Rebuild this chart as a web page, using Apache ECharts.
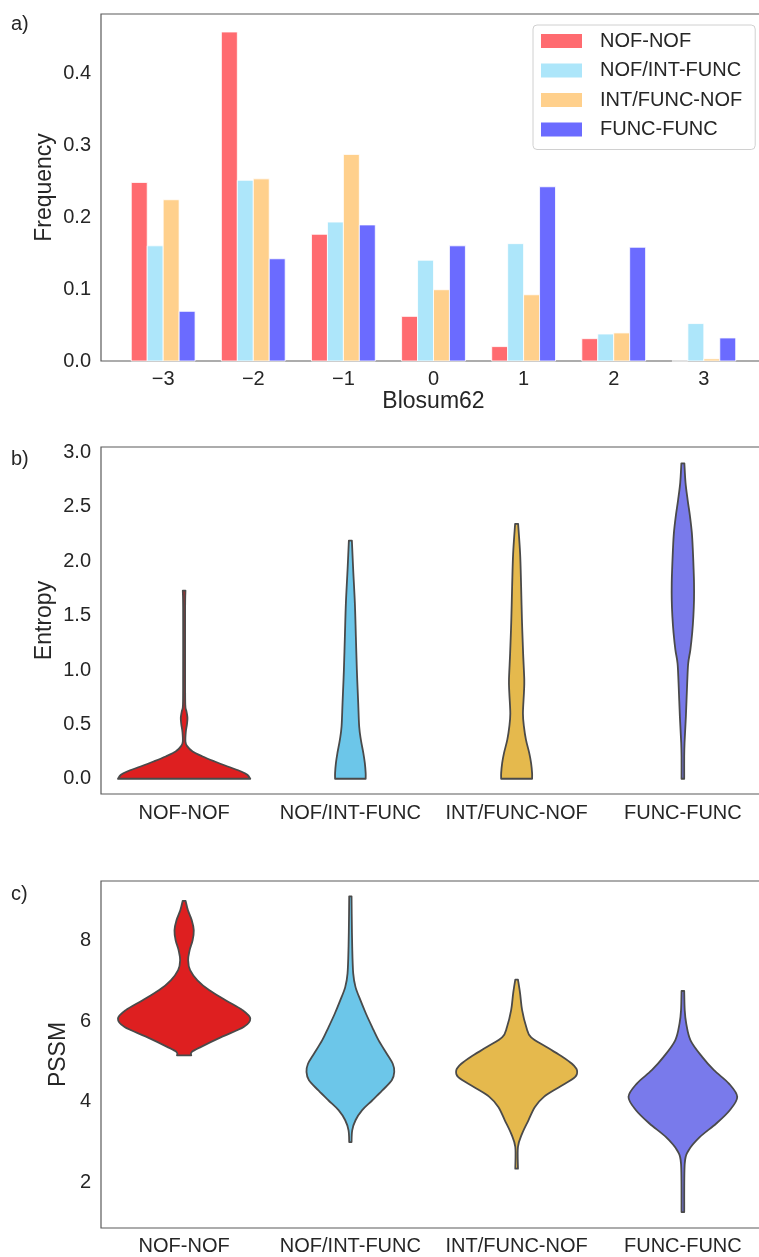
<!DOCTYPE html>
<html><head><meta charset="utf-8">
<script src="https://cdn.jsdelivr.net/npm/echarts@6/dist/echarts.min.js"></script>
<style>html,body{margin:0;padding:0;background:#fff}#c{width:759px;height:1257px}</style>
</head><body><div id="c"></div>
<script>
// ---------- DATA ----------
const blosumScores = [-3, -2, -1, 0, 1, 2, 3];
const groupNames = ['NOF-NOF', 'NOF/INT-FUNC', 'INT/FUNC-NOF', 'FUNC-FUNC'];
const freqNofNof      = [0.248, 0.457, 0.176, 0.062, 0.020, 0.031, 0.000];
const freqNofIntFunc  = [0.160, 0.251, 0.193, 0.140, 0.163, 0.0375, 0.052];
const freqIntFuncNof  = [0.224, 0.253, 0.287, 0.099, 0.092, 0.039, 0.003];
const freqFuncFunc    = [0.069, 0.142, 0.189, 0.160, 0.242, 0.158, 0.032];
const freqTicks = [0, 0.1, 0.2, 0.3, 0.4];
const entropyTicks = [0, 0.5, 1.0, 1.5, 2.0, 2.5, 3.0];
const pssmTicks = [2, 4, 6, 8];

// violin outlines: [value, half-width in category units], bottom to top
const entropyNofNof = [[0,0.398],[0.037,0.380],[0.067,0.343],[0.113,0.262],[0.159,0.184],[0.205,0.111],[0.25,0.051],[0.30,0.018],[0.34,0.008],[0.43,0.010],[0.50,0.017],[0.56,0.020],[0.62,0.014],[0.68,0.007],[0.96,0.006],[1.57,0.006],[1.73,0.008]];
const entropyNofIntFunc = [[0,0.092],[0.052,0.092],[0.144,0.087],[0.236,0.078],[0.36,0.063],[0.48,0.053],[0.70,0.047],[1.00,0.039],[1.31,0.033],[1.615,0.027],[1.92,0.017],[2.19,0.009]];
const entropyIntFuncNof = [[0,0.093],[0.052,0.093],[0.144,0.087],[0.236,0.076],[0.36,0.056],[0.48,0.044],[0.60,0.038],[0.79,0.044],[0.91,0.046],[1.155,0.039],[1.46,0.032],[1.77,0.027],[2.07,0.021],[2.344,0.009]];
const entropyFuncFunc = [[0,0.008],[0.205,0.008],[0.33,0.010],[0.57,0.018],[0.88,0.026],[1.06,0.032],[1.186,0.045],[1.34,0.056],[1.49,0.063],[1.645,0.067],[1.80,0.067],[1.95,0.064],[2.10,0.060],[2.26,0.054],[2.41,0.043],[2.56,0.029],[2.72,0.016],[2.90,0.009]];

const pssmNofNof = [[5.15,0.043],[5.23,0.045],[5.36,0.102],[5.60,0.223],[5.85,0.358],[6.06,0.398],[6.27,0.351],[6.51,0.252],[6.76,0.152],[7.01,0.080],[7.26,0.036],[7.505,0.024],[7.75,0.033],[8.00,0.051],[8.25,0.058],[8.497,0.046],[8.745,0.023],[8.976,0.009]];
const pssmNofIntFunc = [[3.0,0.007],[3.29,0.011],[3.54,0.031],[3.79,0.071],[4.03,0.131],[4.28,0.192],[4.53,0.249],[4.74,0.264],[4.94,0.255],[5.19,0.219],[5.52,0.170],[5.85,0.131],[6.18,0.094],[6.51,0.061],[6.84,0.031],[7.18,0.017],[7.84,0.011],[8.66,0.008],[9.09,0.007]];
const pssmIntFuncNof = [[2.34,0.008],[2.88,0.008],[3.21,0.033],[3.54,0.071],[3.87,0.110],[4.12,0.164],[4.36,0.255],[4.61,0.351],[4.78,0.363],[4.94,0.333],[5.11,0.277],[5.36,0.177],[5.60,0.086],[5.85,0.058],[6.27,0.033],[6.68,0.021],[7.027,0.008]];
const pssmFuncFunc = [[1.265,0.008],[2.46,0.011],[2.79,0.034],[3.12,0.101],[3.46,0.201],[3.79,0.282],[4.12,0.327],[4.45,0.277],[4.78,0.187],[5.11,0.116],[5.52,0.046],[5.94,0.020],[6.27,0.011],[6.744,0.008]];

// ---------- STYLE ----------
const barColors = ['#FF6B70', '#ADE6FA', '#FFD08C', '#6B6BFF'];
const violinColors = ['#DE1F20', '#6CC6E9', '#E5B94D', '#797AEB'];
const TEXT = '#262626';
const FONT = "'Liberation Sans', Arial, sans-serif";
const BAR_W = 0.177;

function barRenderer(k) {
  return function (params, api) {
    const x = api.value(0), y = api.value(1);
    const off = (k - 1.5) * BAR_W;
    const p0 = api.coord([x + off - BAR_W / 2, y]);
    const p1 = api.coord([x + off + BAR_W / 2, 0]);
    return {
      type: 'rect',
      shape: { x: p0[0], y: p0[1], width: p1[0] - p0[0], height: p1[1] - p0[1] },
      style: { fill: barColors[k], stroke: 'rgba(255,255,255,0.8)', lineWidth: 1 }
    };
  };
}

function crSegs(pts) {
  let s = '';
  for (let k = 0; k < pts.length - 1; k++) {
    const p0 = pts[Math.max(k - 1, 0)], p1 = pts[k], p2 = pts[k + 1], p3 = pts[Math.min(k + 2, pts.length - 1)];
    const c1 = [p1[0] + (p2[0] - p0[0]) / 6, p1[1] + (p2[1] - p0[1]) / 6];
    const c2 = [p2[0] - (p3[0] - p1[0]) / 6, p2[1] - (p3[1] - p1[1]) / 6];
    s += ' C' + c1[0] + ' ' + c1[1] + ' ' + c2[0] + ' ' + c2[1] + ' ' + p2[0] + ' ' + p2[1];
  }
  return s;
}

function violinRenderer(profiles) {
  return function (params, api) {
    const i = params.dataIndex;
    const prof = profiles[i];
    const cx = api.coord([i, prof[0][0]])[0];
    const band = api.size([1, 0])[0];
    const right = prof.map(p => [cx + p[1] * band, api.coord([i, p[0]])[1]]);
    const left = prof.map(p => [cx - p[1] * band, api.coord([i, p[0]])[1]]).reverse();
    let d = 'M' + right[0][0] + ' ' + right[0][1] + crSegs(right);
    d += ' L' + left[0][0] + ' ' + left[0][1] + crSegs(left) + ' Z';
    return {
      type: 'path',
      shape: { pathData: d },
      style: { fill: violinColors[i], stroke: '#4a4a4a', lineWidth: 1.8, lineJoin: 'round' }
    };
  };
}

const gridStyle = { show: true, borderColor: '#5a5a5a', borderWidth: 1.2, backgroundColor: 'transparent', outerBoundsMode: 'none', containLabel: false };
const labelBase = { fontSize: 20, color: TEXT, fontFamily: FONT };
const nameBase = { fontSize: 23, color: TEXT, fontFamily: FONT };
const noLines = { axisLine: { show: false }, axisTick: { show: false }, splitLine: { show: false }, nameMoveOverlap: false };

const freqSeries = [freqNofNof, freqNofIntFunc, freqIntFuncNof, freqFuncFunc];

const option = {
  animation: false,
  textStyle: { fontFamily: FONT },
  title: [
    { text: 'a)', left: 11, top: 14, padding: 0, textStyle: { fontSize: 20, fontWeight: 'normal', color: TEXT, fontFamily: FONT } },
    { text: 'b)', left: 11, top: 449, padding: 0, textStyle: { fontSize: 20, fontWeight: 'normal', color: TEXT, fontFamily: FONT } },
    { text: 'c)', left: 11, top: 884, padding: 0, textStyle: { fontSize: 20, fontWeight: 'normal', color: TEXT, fontFamily: FONT } }
  ],
  legend: {
    data: groupNames, orient: 'vertical', left: 533, top: 25, icon: 'rect',
    itemWidth: 41, itemHeight: 14, itemGap: 9.5, padding: [6, 13, 10, 8],
    borderColor: '#d0d0d0', borderWidth: 1, borderRadius: 4, backgroundColor: '#fff',
    textStyle: { fontSize: 20, color: TEXT, fontFamily: FONT, lineHeight: 20, padding: [0, 0, 0, 13] }
  },
  grid: [
    Object.assign({ left: 101, top: 14, right: -7, height: 347 }, gridStyle),
    Object.assign({ left: 101, top: 447, right: -7, height: 347 }, gridStyle),
    Object.assign({ left: 101, top: 881, right: -7, height: 347 }, gridStyle)
  ],
  xAxis: [
    Object.assign({ gridIndex: 0, type: 'value', min: -3.69, max: 3.69,
      axisLabel: Object.assign({ customValues: blosumScores, margin: 8,
        formatter: v => (v < 0 ? '\u2212' : '') + Math.abs(v) }, labelBase),
      name: 'Blosum62', nameLocation: 'middle', nameGap: 29, nameTextStyle: nameBase }, noLines),
    Object.assign({ gridIndex: 1, type: 'category', data: groupNames,
      axisLabel: Object.assign({ margin: 9, interval: 0, hideOverlap: false }, labelBase) }, noLines),
    Object.assign({ gridIndex: 2, type: 'category', data: groupNames,
      axisLabel: Object.assign({ margin: 8, interval: 0, hideOverlap: false }, labelBase) }, noLines)
  ],
  yAxis: [
    Object.assign({ gridIndex: 0, type: 'value', min: 0, max: 0.482,
      axisLabel: Object.assign({ customValues: freqTicks, margin: 10, formatter: v => v.toFixed(1) }, labelBase),
      name: 'Frequency', nameLocation: 'middle', nameGap: 45, nameTextStyle: nameBase }, noLines),
    Object.assign({ gridIndex: 1, type: 'value', min: -0.14, max: 3.05,
      axisLabel: Object.assign({ customValues: entropyTicks, margin: 10, formatter: v => v.toFixed(1) }, labelBase),
      name: 'Entropy', nameLocation: 'middle', nameGap: 45, nameTextStyle: nameBase }, noLines),
    Object.assign({ gridIndex: 2, type: 'value', min: 0.87, max: 9.47,
      axisLabel: Object.assign({ customValues: pssmTicks, margin: 10, formatter: v => String(v) }, labelBase),
      name: 'PSSM', nameLocation: 'middle', nameGap: 31, nameTextStyle: nameBase }, noLines)
  ],
  series: freqSeries.map((vals, k) => ({
    name: groupNames[k], type: 'custom', xAxisIndex: 0, yAxisIndex: 0,
    itemStyle: { color: barColors[k] },
    renderItem: barRenderer(k),
    encode: { x: 0, y: 1 },
    data: blosumScores.map((s, j) => [s, vals[j]])
  })).concat([
    { type: 'custom', xAxisIndex: 1, yAxisIndex: 1, encode: { x: 0, y: 1 },
      renderItem: violinRenderer([entropyNofNof, entropyNofIntFunc, entropyIntFuncNof, entropyFuncFunc]),
      data: groupNames.map((g, i) => [i, 0]) },
    { type: 'custom', xAxisIndex: 2, yAxisIndex: 2, encode: { x: 0, y: 1 },
      renderItem: violinRenderer([pssmNofNof, pssmNofIntFunc, pssmIntFuncNof, pssmFuncFunc]),
      data: groupNames.map((g, i) => [i, 5]) }
  ])
};
const chart = echarts.init(document.getElementById('c'), null, { renderer: 'canvas' });
chart.setOption(option);
</script></body></html>
